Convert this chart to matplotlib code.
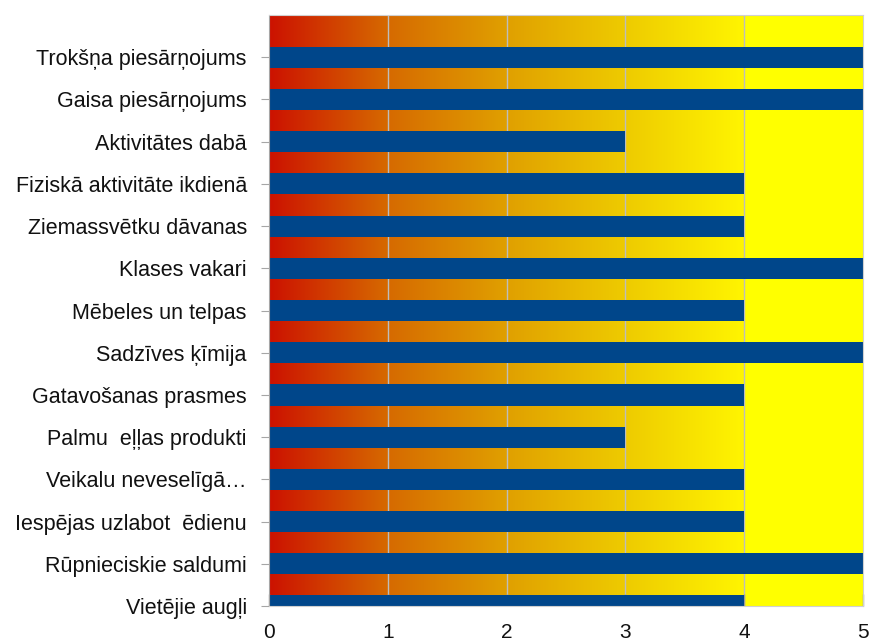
import numpy as np
import matplotlib.pyplot as plt
from matplotlib.colors import LinearSegmentedColormap

plt.rcParams['font.family'] = ['Liberation Sans', 'DejaVu Sans']

# categories listed bottom to top (as drawn)
categories = [
    "Vietējie augļi",
    "Rūpnieciskie saldumi",
    "Iespējas uzlabot  ēdienu",
    "Veikalu neveselīgā…",
    "Palmu  eļļas produkti",
    "Gatavošanas prasmes",
    "Sadzīves ķīmija",
    "Mēbeles un telpas",
    "Klases vakari",
    "Ziemassvētku dāvanas",
    "Fiziskā aktivitāte ikdienā",
    "Aktivitātes dabā",
    "Gaisa piesārņojums",
    "Trokšņa piesārņojums",
]
values = [4, 5, 4, 4, 3, 4, 5, 4, 5, 4, 4, 3, 5, 5]
xticks = [0, 1, 2, 3, 4, 5]

bar_color = "#00468A"
grad = LinearSegmentedColormap.from_list(
    "bg", ["#CC1200", "#D66A00", "#E0A000", "#EECB00", "#FFF500"])

fig = plt.figure(figsize=(8.69, 6.39), dpi=100)
ax = fig.add_axes([0.3096, 0.0516, 0.6834, 0.9249])

# gradient background 0..4, flat yellow 4..5
ax.imshow(np.linspace(0, 1, 256).reshape(1, -1), cmap=grad, aspect='auto',
          extent=(0, 4, 0, 14), zorder=0, interpolation='bilinear')
ax.axvspan(4, 5, color="#FFFF00", zorder=0, lw=0)

for x in xticks[1:-1]:
    ax.axvline(x, color="#BDBDBD", lw=1, zorder=1)

y = np.arange(len(categories))
ax.barh(y, values, height=0.5, color=bar_color, zorder=2)

ax.set_xlim(0, 5)
ax.set_ylim(0, 14)
ax.set_xticks(xticks)
ax.set_yticks(y)
ax.set_yticklabels(categories, fontsize=15.5, color="#111111")
ax.tick_params(axis='x', direction='in', length=9, width=1, color="#9A9A9A",
               labelsize=15, pad=12, labelcolor="#111111")
ax.tick_params(axis='y', length=6, color="#A6A6A6", pad=10)
for s in ax.spines.values():
    s.set_color("#D0D0D0")
ax.spines['left'].set_color("#A6A6A6")

fig.savefig("out.png", dpi=100)
